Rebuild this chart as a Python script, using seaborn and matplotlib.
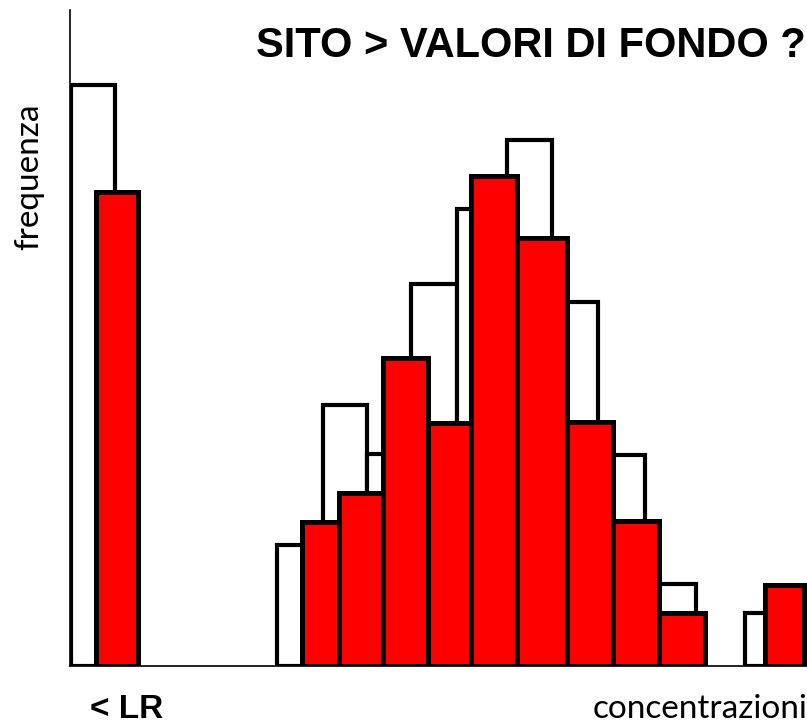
import numpy as np
import pandas as pd
import seaborn as sns
from matplotlib import pyplot as plt

# class boundaries (arbitrary concentration units) and frequencies
# background values (white) vs site values (red); 0 = empty class
fondo_edges = [0.1, 4.5, 20.7, 25.3, 29.7, 34.1, 38.7, 43.7, 48.2, 52.8, 57.5, 62.6, 67.5, 72.0]
fondo_freq = [58.1, 0, 12.1, 26.1, 21.2, 38.2, 45.7, 52.6, 36.4, 21.1, 8.2, 0, 5.3]

sito_edges = [2.6, 6.8, 23.2, 26.9, 31.3, 35.8, 40.1, 44.7, 49.7, 54.3, 58.9, 63.5, 69.5, 73.4]
sito_freq = [47.4, 0, 14.4, 17.3, 30.8, 24.3, 49.0, 42.8, 24.4, 14.5, 5.3, 0, 8.1]

title = 'SITO > VALORI DI FONDO ?'
ylabel = 'frequenza'
xlabel = 'concentrazioni'
lr_label = '< LR'

sns.set_style('white')

W, H = 807, 725
fig = plt.figure(figsize=(W / 100, H / 100), dpi=100)
ax = fig.add_axes([70 / W, (H - 666) / H, 737 / W, 656 / H])


def hist(edges, freq, color, lw):
    e = np.array(edges)
    df = pd.DataFrame({'conc': (e[:-1] + e[1:]) / 2, 'freq': freq})
    n0 = len(ax.patches)
    sns.histplot(data=df, x='conc', weights='freq', bins=list(edges), stat='count',
                 color=color, edgecolor='black', linewidth=lw, alpha=1, ax=ax)
    for p in ax.patches[n0:]:
        p.set_facecolor(color)
        if p.get_height() == 0:
            p.set_visible(False)


hist(fondo_edges, fondo_freq, 'white', 3.0)
hist(sito_edges, sito_freq, '#ff0000', 3.6)

ax.set_xlim(0, 73.7)
ax.set_ylim(0, 65.6)
ax.set_xticks([])
ax.set_yticks([])
ax.set_xlabel('')
ax.set_ylabel('')
sns.despine(ax=ax)
for s in ['left', 'bottom']:
    ax.spines[s].set_color('black')
    ax.spines[s].set_linewidth(1.2)
    ax.spines[s].set_zorder(0)

fig.text(531 / W, 1 - 57 / H, title, ha='center', va='baseline', color='black',
         fontsize=30, fontweight='bold', family='Liberation Sans')
fig.text(127 / W, 1 - 718 / H, lr_label, ha='center', va='baseline', color='black',
         fontsize=24, fontweight='bold', family='Liberation Sans')
fig.text(593 / W, 1 - 718 / H, xlabel, ha='left', va='baseline', color='black',
         fontsize=24, family='Lato')
fig.text(29.5 / W, 1 - 177 / H, ylabel, ha='center', va='center', color='black',
         rotation=90, fontsize=24, family='Lato')

plt.savefig('out.png', dpi=100)
